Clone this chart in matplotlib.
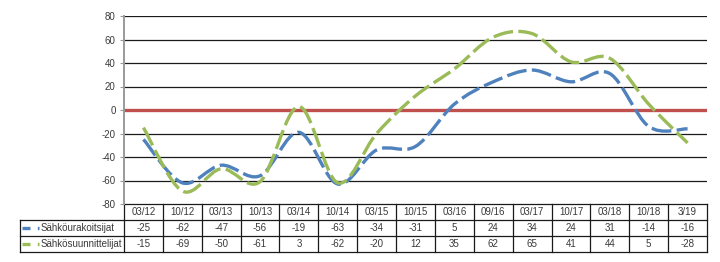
import matplotlib
matplotlib.use("Agg")
import matplotlib.pyplot as plt
from matplotlib.path import Path
from matplotlib.patches import PathPatch
from matplotlib.lines import Line2D

categories = ["03/12", "10/12", "03/13", "10/13", "03/14", "10/14", "03/15", "10/15",
              "03/16", "09/16", "03/17", "10/17", "03/18", "10/18", "3/19"]
urakoitsijat = [-25, -62, -47, -56, -19, -63, -34, -31, 5, 24, 34, 24, 31, -14, -16]
suunnittelijat = [-15, -69, -50, -61, 3, -62, -20, 12, 35, 62, 65, 41, 44, 5, -28]
series_names = ["Sähköurakoitsijat", "Sähkösuunnittelijat"]
series_values = [urakoitsijat, suunnittelijat]
series_colors = ["#4F81BD", "#9BBB59"]
yticks = [-80, -60, -40, -20, 0, 20, 40, 60, 80]

plt.rcParams['font.family'] = ['Liberation Sans', 'DejaVu Sans']
FS = 7
TXT = "#3a3a3a"

W, H = 720, 262
fig = plt.figure(figsize=(W / 100, H / 100), dpi=100)
L, R, T, B = 124, 707, 16, 204
ax = fig.add_axes([L / W, 1 - B / H, (R - L) / W, (B - T) / H])

n = len(categories)
ax.set_xlim(-0.5, n - 0.5)
ax.set_ylim(-80, 80)
ax.set_yticks(yticks)
ax.set_yticklabels([str(v) for v in yticks], fontsize=FS, color=TXT)
ax.set_xticks([])
for v in yticks[1:]:
    if v != 0:
        ax.axhline(v, color="#1a1a1a", lw=0.9, zorder=1)
ax.axhline(0, color="#C0504D", lw=2.4, zorder=2)
for s in ["top", "right", "bottom"]:
    ax.spines[s].set_visible(False)
ax.spines["left"].set_color("#9a9a9a")
ax.spines["left"].set_linewidth(1.4)
ax.tick_params(axis="y", length=3, width=0.8, color="#9a9a9a", pad=3)


def smooth_path(xs, ys):
    pts = list(zip(xs, ys))
    verts = [pts[0]]
    codes = [Path.MOVETO]
    m = len(pts)
    for i in range(m - 1):
        p0 = pts[i - 1] if i > 0 else pts[i]
        p1 = pts[i]
        p2 = pts[i + 1]
        p3 = pts[i + 2] if i + 2 < m else pts[i + 1]
        c1 = (p1[0] + (p2[0] - p0[0]) / 6, p1[1] + (p2[1] - p0[1]) / 6)
        c2 = (p2[0] - (p3[0] - p1[0]) / 6, p2[1] - (p3[1] - p1[1]) / 6)
        verts += [c1, c2, p2]
        codes += [Path.CURVE4] * 3
    return Path(verts, codes)


xs = list(range(n))
for vals, col in zip(series_values, series_colors):
    patch = PathPatch(smooth_path(xs, vals), fill=False, edgecolor=col, lw=2.4,
                      linestyle=(0, (6, 1.6)), capstyle="butt", zorder=3)
    ax.add_patch(patch)

# ---- data table below the plot ----
rh = 16 / (B - T)
xl = (20 - L) / (R - L)
lc = "#1a1a1a"
lw = 0.9


def hline(x0, x1, y):
    ax.add_line(Line2D([x0, x1], [y, y], transform=ax.transAxes, color=lc, lw=lw, clip_on=False))


def vline(x, y0, y1):
    ax.add_line(Line2D([x, x], [y0, y1], transform=ax.transAxes, color=lc, lw=lw, clip_on=False))


hline(0, 1, 0)
for k in (1, 2, 3):
    hline(xl, 1, -k * rh)
for i in range(n + 1):
    vline(i / n, 0, -3 * rh)
vline(xl, -rh, -3 * rh)

for i, c in enumerate(categories):
    ax.text((i + 0.5) / n, -0.5 * rh, c, transform=ax.transAxes, ha="center", va="center",
            fontsize=FS, color=TXT)
for r, (name, vals, col) in enumerate(zip(series_names, series_values, series_colors)):
    yc = -(r + 1.5) * rh
    for i, v in enumerate(vals):
        ax.text((i + 0.5) / n, yc, str(v), transform=ax.transAxes, ha="center", va="center",
                fontsize=FS, color=TXT)
    x0 = (22 - L) / (R - L)
    x1 = (39 - L) / (R - L)
    ax.add_line(Line2D([x0, x1], [yc, yc], transform=ax.transAxes, color=col, lw=2.4,
                       linestyle=(0, (2.4, 2.2)), solid_capstyle="butt", dash_capstyle="butt",
                       clip_on=False))
    ax.text((41 - L) / (R - L), yc, name, transform=ax.transAxes, ha="left", va="center",
            fontsize=FS, color=TXT)

fig.savefig("out.png", dpi=100)
